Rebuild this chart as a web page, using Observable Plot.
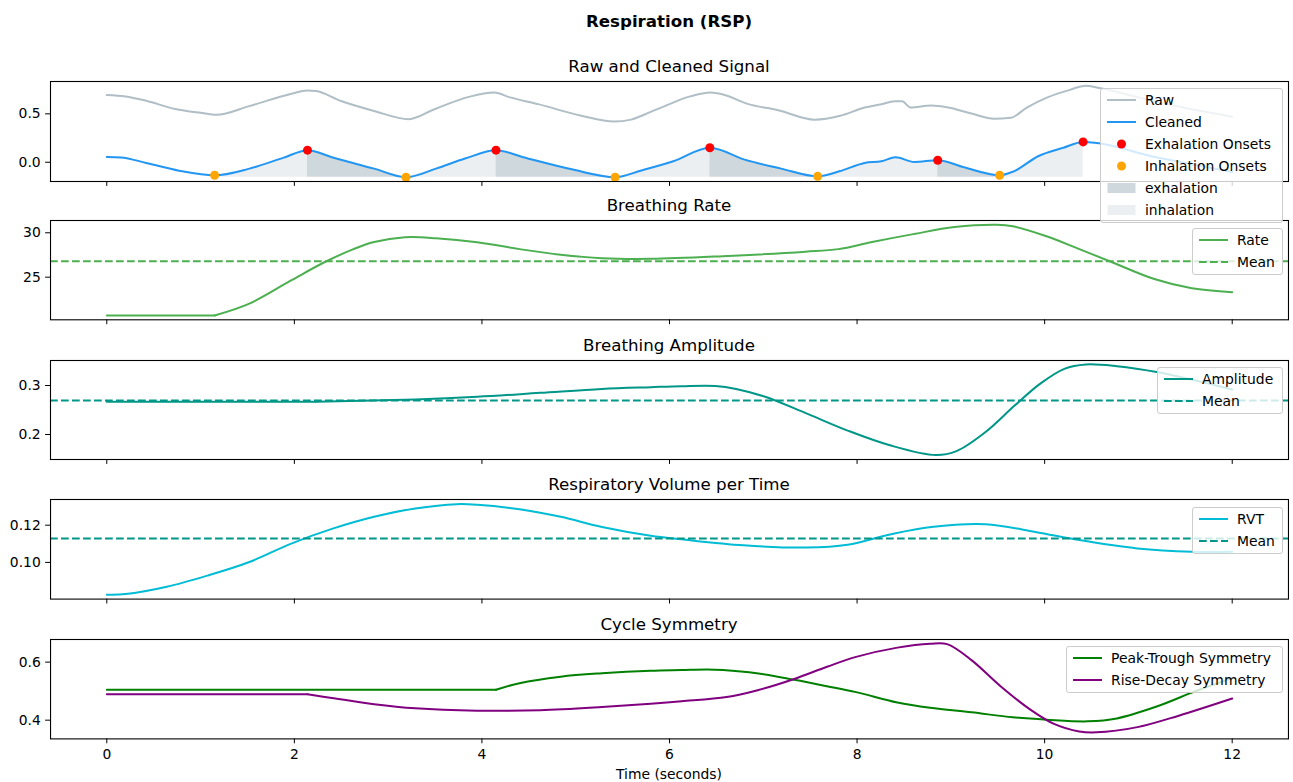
<!DOCTYPE html>
<html><head><meta charset="utf-8">
<script src="https://cdn.jsdelivr.net/npm/d3@7"></script>
<script src="https://cdn.jsdelivr.net/npm/@observablehq/plot@0.6"></script>
<style>
body{margin:0;background:#fff;}
#root{position:relative;width:1293px;height:782px;font-family:"DejaVu Sans",sans-serif;color:#000;overflow:hidden;background:#fff;}
.t{position:absolute;left:50px;width:1238px;text-align:center;white-space:nowrap;font-size:16.67px;line-height:20px;}
.lg{position:absolute;background:rgba(255,255,255,0.8);border:1px solid #cccccc;border-radius:3px;box-sizing:border-box;z-index:10;}
.row{position:absolute;left:0;height:22px;font-size:13.9px;line-height:22px;white-space:nowrap;}
</style></head><body><div id="root"></div><script>
// ---------- data ----------
const X_TICKS = [0, 2, 4, 6, 8, 10, 12];

const rawT = [0, 0.2, 0.42, 0.73, 1.0, 1.17, 1.52, 1.96, 2.14, 2.23, 2.49, 2.85, 3.22, 3.5, 3.86, 4.13, 4.3, 4.6, 5.06, 5.41, 5.59, 5.8, 5.95, 6.22, 6.44, 6.57, 6.84, 7.15, 7.55, 7.82, 8.08, 8.26, 8.4, 8.48, 8.57, 8.79, 8.97, 9.23, 9.46, 9.64, 9.81, 10.03, 10.26, 10.44, 10.57, 11.0, 11.4, 12];
const rawV = [0.695, 0.68, 0.635, 0.55, 0.51, 0.49, 0.58, 0.705, 0.74, 0.735, 0.635, 0.53, 0.445, 0.55, 0.675, 0.72, 0.67, 0.6, 0.48, 0.42, 0.44, 0.52, 0.58, 0.68, 0.72, 0.70, 0.6, 0.54, 0.44, 0.48, 0.565, 0.60, 0.63, 0.63, 0.565, 0.585, 0.565, 0.5, 0.45, 0.46, 0.565, 0.67, 0.745, 0.79, 0.77, 0.67, 0.58, 0.47];

const cleanT = [0, 0.15, 0.42, 0.77, 1.15, 1.52, 1.88, 2.14, 2.4, 2.85, 3.19, 3.51, 3.82, 4.15, 4.44, 4.97, 5.42, 5.7, 6.04, 6.43, 6.8, 7.19, 7.58, 7.81, 8.08, 8.26, 8.41, 8.61, 8.86, 9.14, 9.52, 9.67, 9.93, 10.2, 10.41, 11.2, 12];
const cleanV = [0.055, 0.05, -0.007, -0.087, -0.135, -0.066, 0.045, 0.125, 0.052, -0.066, -0.155, -0.066, 0.038, 0.125, 0.052, -0.076, -0.155, -0.085, 0.01, 0.15, 0.027, -0.066, -0.146, -0.094, -0.007, 0.01, 0.052, 0.003, 0.021, -0.052, -0.135, -0.094, 0.062, 0.15, 0.21, 0.05, -0.1];

const exhOnsetT = [2.14, 4.15, 6.43, 8.86, 10.41];
const inhOnsetT = [1.15, 3.19, 5.42, 7.58, 9.52];

const rateT = [0, 1.15, 1.52, 1.96, 2.32, 2.63, 2.85, 3.18, 3.51, 3.95, 4.4, 4.84, 5.28, 5.8, 6.57, 7.45, 7.8, 8.16, 8.6, 9.04, 9.49, 9.66, 10.02, 10.37, 10.72, 11.17, 11.57, 12];
const rateV = [20.68, 20.68, 22.02, 24.6, 26.68, 28.16, 28.96, 29.5, 29.39, 28.94, 28.16, 27.52, 27.14, 27.07, 27.37, 27.87, 28.16, 28.96, 29.85, 30.64, 30.9, 30.74, 29.61, 28.16, 26.68, 24.79, 23.75, 23.31];
const rateMean = [26.8];

const ampT = [0, 2.23, 3.29, 3.95, 4.62, 5.28, 5.8, 6.13, 6.49, 6.71, 7.02, 7.46, 7.9, 8.35, 8.84, 9.06, 9.37, 9.68, 9.95, 10.21, 10.44, 10.77, 11.21, 11.61, 12];
const ampV = [0.267, 0.267, 0.2716, 0.277, 0.285, 0.293, 0.2966, 0.2986, 0.299, 0.293, 0.277, 0.243, 0.208, 0.178, 0.158, 0.166, 0.205, 0.259, 0.3034, 0.334, 0.343, 0.3394, 0.327, 0.31, 0.292];
const ampMean = [0.2694];

const rvtT = [0, 0.2, 0.64, 1.08, 1.52, 1.96, 2.4, 2.85, 3.29, 3.73, 3.95, 4.4, 4.84, 5.28, 5.8, 6.13, 6.79, 7.46, 7.9, 8.35, 8.79, 9.37, 9.9, 10.37, 10.99, 11.57, 12];
const rvtV = [0.0827, 0.083, 0.0869, 0.093, 0.1002, 0.110, 0.118, 0.1245, 0.129, 0.1313, 0.131, 0.1286, 0.1245, 0.119, 0.1143, 0.1124, 0.1092, 0.108, 0.1095, 0.115, 0.119, 0.1205, 0.1164, 0.112, 0.1075, 0.1057, 0.1057];
const rvtMean = [0.1129];

const ptT = [0, 4.15, 4.4, 4.84, 5.28, 5.8, 6.13, 6.4, 6.57, 6.93, 7.33, 7.68, 7.99, 8.43, 8.78, 9.22, 9.66, 10.02, 10.46, 10.77, 11.21, 11.61, 12];
const ptV = [0.5046, 0.5046, 0.5275, 0.55, 0.5617, 0.5705, 0.573, 0.575, 0.573, 0.5617, 0.539, 0.517, 0.4966, 0.4607, 0.4425, 0.427, 0.41, 0.4017, 0.396, 0.406, 0.4487, 0.5, 0.545];
const rdT = [0, 2.14, 2.4, 2.85, 3.29, 3.95, 4.62, 5.28, 5.8, 6.13, 6.61, 6.93, 7.33, 7.68, 7.99, 8.43, 8.78, 8.96, 9.22, 9.53, 9.84, 10.1, 10.37, 10.55, 10.99, 11.43, 12];
const rdV = [0.489, 0.489, 0.4765, 0.455, 0.4407, 0.4327, 0.434, 0.445, 0.4565, 0.465, 0.4797, 0.5024, 0.542, 0.584, 0.618, 0.65, 0.6633, 0.662, 0.607, 0.517, 0.438, 0.387, 0.361, 0.358, 0.376, 0.4155, 0.4746];

// ---------- helpers ----------
const root = document.getElementById("root");
const zip = (T, V) => T.map((t, i) => ({t, v: V[i]}));
const X_DOMAIN = [-0.6, 12.6];
const PANEL_TOPS = [81, 220, 360, 499.4, 639.3];
const PANEL_H = [100, 99.3, 99, 99.6, 99.4];
const DASH = "7.7,3.3";

function addText(txt, cy, extra) {
  const d = document.createElement("div");
  d.className = "t";
  d.textContent = txt;
  d.style.top = (cy - 10) + "px";
  if (extra) Object.assign(d.style, extra);
  root.appendChild(d);
}

// split a series into its leading flat run (drawn straight) and the smooth rest
function flatAndCurve(T, V, stroke) {
  const data = zip(T, V);
  let k = 0;
  while (k + 1 < V.length && V[k + 1] === V[0]) k++;
  const marks = [];
  if (k > 0) marks.push(Plot.line(data.slice(0, k + 1), {x: "t", y: "v", stroke, strokeWidth: 2}));
  marks.push(Plot.line(data.slice(k), {x: "t", y: "v", stroke, strokeWidth: 2, curve: "catmull-rom"}));
  return marks;
}

function panel(i, yDomain, yTicks, yFmt, marks, title) {
  const bottom = i === 4;
  const mt = 6, mb = bottom ? 30 : 8;
  const svg = Plot.plot({
    width: 1293, height: PANEL_H[i] + mt + mb,
    marginLeft: 50, marginRight: 5, marginTop: mt, marginBottom: mb,
    x: {domain: X_DOMAIN}, y: {domain: yDomain},
    style: {fontFamily: '"DejaVu Sans", sans-serif', fontSize: "13.9px", color: "#000", background: "transparent", overflow: "visible"},
    marks: [
      ...marks,
      Plot.axisX({ticks: X_TICKS, tickSize: 4.9, tickPadding: 4.9, tickFormat: bottom ? (d => String(d)) : (() => ""), label: null, fontSize: 13.9}),
      Plot.axisY({ticks: yTicks, tickSize: 4.9, tickPadding: 4.9, tickFormat: yFmt, label: null, fontSize: 13.9}),
      Plot.frame({stroke: "#000", strokeWidth: 1.1})
    ]
  });
  svg.style.position = "absolute";
  svg.style.left = "0px";
  svg.style.top = (PANEL_TOPS[i] - mt) + "px";
  root.appendChild(svg);
  addText(title, PANEL_TOPS[i] - 14);
}

function legend(left, top, width, items) {
  const n = items.length;
  const div = document.createElement("div");
  div.className = "lg";
  Object.assign(div.style, {left: left + "px", top: top + "px", width: width + "px", height: (22 * n + 3) + "px"});
  items.forEach((it, k) => {
    let h = "";
    if (it.type === "line") h = `<line x1="1" x2="30" y1="11" y2="11" stroke="${it.color}" stroke-width="2"/>`;
    else if (it.type === "dash") h = `<line x1="1" x2="30" y1="11" y2="11" stroke="${it.color}" stroke-width="2" stroke-dasharray="${DASH}"/>`;
    else if (it.type === "dot") h = `<circle cx="15.5" cy="11" r="4.5" fill="${it.color}"/>`;
    else if (it.type === "patch") h = `<rect x="1.5" y="6" width="28" height="10" fill="${it.color}"/>`;
    const row = document.createElement("div");
    row.className = "row";
    row.style.top = (22 * k) + "px";
    row.style.width = width + "px";
    row.innerHTML = `<svg width="34" height="22" style="position:absolute;left:5px;top:0">${h}</svg><span style="position:absolute;left:44px;top:0">${it.label}</span>`;
    div.appendChild(row);
  });
  root.appendChild(div);
}

// ---------- panel 1 ----------
const raw = zip(rawT, rawV);
const clean = zip(cleanT, cleanV);
const base = d3.min(cleanV);
const valAt = t => clean.find(d => Math.abs(d.t - t) < 1e-9).v;
const exhPts = exhOnsetT.map(t => ({t, v: valAt(t)}));
const inhPts = inhOnsetT.map(t => ({t, v: valAt(t)}));
const segs = [];
inhOnsetT.forEach((s, k) => {
  const e = exhOnsetT.find(x => x > s);
  if (e !== undefined) clean.filter(d => d.t >= s && d.t <= e).forEach(d => segs.push({...d, seg: "i" + k, phase: "inhalation"}));
});
exhOnsetT.forEach((s, k) => {
  const e = inhOnsetT.find(x => x > s);
  if (e !== undefined) clean.filter(d => d.t >= s && d.t <= e).forEach(d => segs.push({...d, seg: "e" + k, phase: "exhalation"}));
});

addText("Respiration (RSP)", 22, {fontWeight: "bold"});

panel(0, [-0.199, 0.834], [0, 0.5], d => d.toFixed(1), [
  Plot.areaY(segs.filter(d => d.phase === "inhalation"), {x: "t", y1: base, y2: "v", z: "seg", fill: "#ECEFF1", curve: "monotone-x"}),
  Plot.areaY(segs.filter(d => d.phase === "exhalation"), {x: "t", y1: base, y2: "v", z: "seg", fill: "#CFD8DC", curve: "monotone-x"}),
  Plot.line(raw, {x: "t", y: "v", stroke: "#B0BEC5", strokeWidth: 2, curve: "monotone-x"}),
  Plot.line(clean, {x: "t", y: "v", stroke: "#2196F3", strokeWidth: 2, curve: "monotone-x"}),
  Plot.dot(exhPts, {x: "t", y: "v", r: 4.5, fill: "red"}),
  Plot.dot(inhPts, {x: "t", y: "v", r: 4.5, fill: "orange"})
], "Raw and Cleaned Signal");

// ---------- panel 2 ----------
panel(1, [20.2, 31.385], [25, 30], d => String(d), [
  ...flatAndCurve(rateT, rateV, "#4CAF50"),
  Plot.ruleY(rateMean, {stroke: "#4CAF50", strokeWidth: 2, strokeDasharray: DASH})
], "Breathing Rate");

// ---------- panel 3 ----------
panel(2, [0.149, 0.351], [0.2, 0.3], d => d.toFixed(1), [
  ...flatAndCurve(ampT, ampV, "#009688"),
  Plot.ruleY(ampMean, {stroke: "#009688", strokeWidth: 2, strokeDasharray: DASH})
], "Breathing Amplitude");

// ---------- panel 4 ----------
panel(3, [0.0803, 0.1338], [0.10, 0.12], d => d.toFixed(2), [
  ...flatAndCurve(rvtT, rvtV, "#00BCD4"),
  Plot.ruleY(rvtMean, {stroke: "#009688", strokeWidth: 2, strokeDasharray: DASH})
], "Respiratory Volume per Time");

// ---------- panel 5 ----------
panel(4, [0.3355, 0.678], [0.4, 0.6], d => d.toFixed(1), [
  ...flatAndCurve(ptT, ptV, "green"),
  ...flatAndCurve(rdT, rdV, "purple")
], "Cycle Symmetry");

addText("Time (seconds)", 774, {fontSize: "13.9px"});

// ---------- legends ----------
legend(1100, 88, 183, [
  {type: "line", color: "#B0BEC5", label: "Raw"},
  {type: "line", color: "#2196F3", label: "Cleaned"},
  {type: "dot", color: "red", label: "Exhalation Onsets"},
  {type: "dot", color: "orange", label: "Inhalation Onsets"},
  {type: "patch", color: "#CFD8DC", label: "exhalation"},
  {type: "patch", color: "#ECEFF1", label: "inhalation"}
]);
legend(1192, 227.5, 91, [
  {type: "line", color: "#4CAF50", label: "Rate"},
  {type: "dash", color: "#4CAF50", label: "Mean"}
]);
legend(1157, 366.5, 126, [
  {type: "line", color: "#009688", label: "Amplitude"},
  {type: "dash", color: "#009688", label: "Mean"}
]);
legend(1192, 506.5, 91, [
  {type: "line", color: "#00BCD4", label: "RVT"},
  {type: "dash", color: "#009688", label: "Mean"}
]);
legend(1066, 646, 217, [
  {type: "line", color: "green", label: "Peak-Trough Symmetry"},
  {type: "line", color: "purple", label: "Rise-Decay Symmetry"}
]);
</script></body></html>
